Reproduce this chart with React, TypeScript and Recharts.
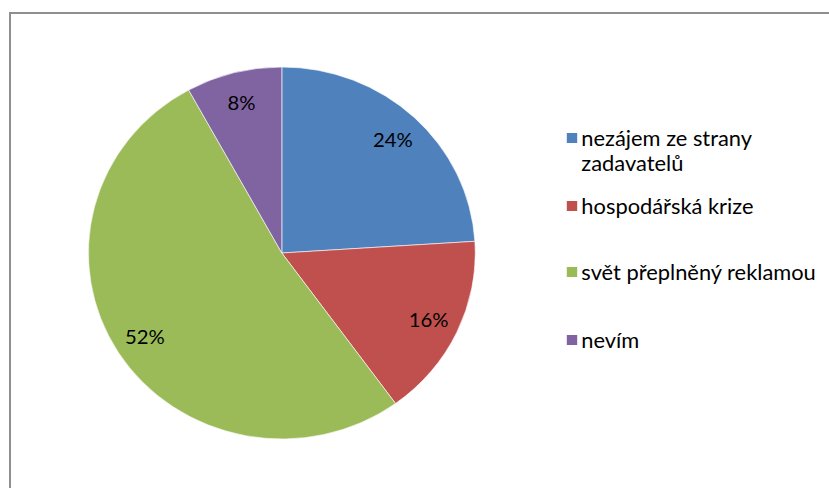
import React from "react";
import { PieChart, Pie, Cell, Legend } from "recharts";

const categories = ["nezájem ze strany zadavatelů", "hospodářská krize", "svět přeplněný reklamou", "nevím"];
const shares = [24, 16, 52, 8];
const colors = ["#4F81BD", "#C0504D", "#9BBB59", "#8064A2"];

// extra vertical gap above each legend entry (px)
const legendGaps = [0, 18, 41, 43];

const data = categories.map((name, i) => ({ name, value: shares[i] }));

const RAD = Math.PI / 180;
const FONT = "Lato, 'Open Sans', sans-serif";

function renderLabel(props: any) {
  const { cx, cy, midAngle, value } = props;
  const r = 156;
  const x = cx + r * Math.cos(-midAngle * RAD);
  const y = cy + r * Math.sin(-midAngle * RAD);
  return (
    <text x={x} y={y} fill="#000" fontSize={19.5} fontFamily={FONT} textAnchor="middle" dominantBaseline="central">
      {`${value}%`}
    </text>
  );
}

// legend drawn from our own arrays so the order stays as in the data
function renderLegend() {
  return (
    <div style={{ fontFamily: FONT, fontSize: 21, lineHeight: "25px", color: "#000" }}>
      {categories.map((name, i) => (
        <div key={`leg-${i}`} style={{ display: "flex", alignItems: "flex-start", marginTop: legendGaps[i] }}>
          <span
            style={{
              display: "inline-block",
              width: 10,
              height: 10,
              marginTop: 8,
              marginRight: 4,
              flexShrink: 0,
              background: colors[i],
            }}
          />
          <span style={{ whiteSpace: "normal" }}>{name}</span>
        </div>
      ))}
    </div>
  );
}

export default function App() {
  return (
    <div style={{ position: "absolute", left: 0, top: 0, width: 829, height: 488, overflow: "hidden", background: "#fff" }}>
      <div
        style={{
          position: "absolute",
          left: 9,
          top: 12,
          width: 840,
          height: 500,
          borderLeft: "2px solid #8f8f8f",
          borderTop: "2px solid #8f8f8f",
        }}
      />
      <div style={{ position: "absolute", left: 0, top: 0, transform: "scaleX(1.04)", transformOrigin: "0 0" }}>
        <PieChart width={797} height={488} margin={{ top: 0, right: 0, bottom: 0, left: 0 }}>
          <Pie
            data={data}
            dataKey="value"
            nameKey="name"
            cx={271}
            cy={253}
            outerRadius={186}
            startAngle={90}
            endAngle={-270}
            stroke="#ffffff"
            strokeWidth={0.6}
            label={renderLabel}
            labelLine={false}
            isAnimationActive={false}
          >
            {data.map((d, i) => (
              <Cell key={`cell-${i}`} fill={colors[i]} />
            ))}
          </Pie>
          <Legend
            layout="vertical"
            content={renderLegend}
            wrapperStyle={{ position: "absolute", left: 545, top: 125, width: 240, bottom: "auto", right: "auto" }}
          />
        </PieChart>
      </div>
    </div>
  );
}
